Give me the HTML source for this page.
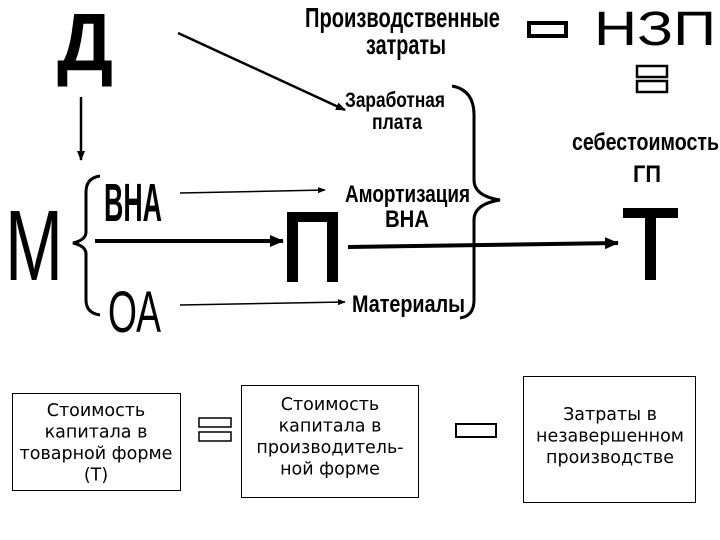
<!DOCTYPE html>
<html><head><meta charset="utf-8"><style>
html,body{margin:0;padding:0;background:#fff;width:720px;height:540px;overflow:hidden}
svg{display:block}
.b{font-family:"Liberation Sans","DejaVu Sans",sans-serif;font-weight:bold;fill:#000}
.r{font-family:"Liberation Sans",sans-serif;fill:#000}
.d{font-family:"DejaVu Sans",sans-serif;font-size:17.5px;fill:#000}
</style></head><body>
<svg width="720" height="540" viewBox="0 0 720 540" xmlns="http://www.w3.org/2000/svg">
<defs>
<marker id="a" markerWidth="10" markerHeight="8" refX="9" refY="4" orient="auto" markerUnits="userSpaceOnUse"><path d="M0,0L10,4L0,8z"/></marker>
<marker id="s" markerWidth="8" markerHeight="6" refX="7" refY="3" orient="auto" markerUnits="userSpaceOnUse"><path d="M0,0L8,3L0,6z"/></marker>
<marker id="t" markerWidth="14" markerHeight="12" refX="13" refY="6" orient="auto" markerUnits="userSpaceOnUse"><path d="M0,0L14,6L0,12z"/></marker>
</defs>
<text class="b" x="57" y="70" font-size="82" textLength="56" lengthAdjust="spacingAndGlyphs">Д</text>
<line x1="81" y1="97" x2="81" y2="160" stroke="#000" stroke-width="2.5" marker-end="url(#a)"/>
<line x1="178" y1="33" x2="345" y2="110" stroke="#000" stroke-width="2.5" marker-end="url(#a)"/>
<text class="b" x="305" y="27" font-size="28" textLength="195" lengthAdjust="spacingAndGlyphs">Производственные</text>
<text class="b" x="366" y="54" font-size="28" textLength="80" lengthAdjust="spacingAndGlyphs">затраты</text>
<rect x="529" y="23" width="37" height="13" fill="none" stroke="#000" stroke-width="4"/>
<text class="r" x="594" y="45" font-size="48" textLength="122" lengthAdjust="spacingAndGlyphs">НЗП</text>
<rect x="637" y="66" width="30" height="11" fill="none" stroke="#000" stroke-width="2.5"/>
<rect x="637" y="81" width="30" height="11" fill="none" stroke="#000" stroke-width="2.5"/>
<text class="b" x="345" y="107" font-size="21" textLength="100" lengthAdjust="spacingAndGlyphs">Заработная</text>
<text class="b" x="372" y="129" font-size="21" textLength="50" lengthAdjust="spacingAndGlyphs">плата</text>
<path d="M452,86 Q474,90 474,115 L474,180 Q474,196 500,200 Q474,204 474,220 L474,300 Q474,316 460,318" fill="none" stroke="#000" stroke-width="3"/>
<text class="b" x="572" y="150" font-size="24" textLength="147" lengthAdjust="spacingAndGlyphs">себестоимость</text>
<text class="b" x="633" y="182" font-size="24" textLength="28" lengthAdjust="spacingAndGlyphs">ГП</text>
<text class="r" x="5" y="280" font-size="100" textLength="58" lengthAdjust="spacingAndGlyphs">М</text>
<path d="M100,176 Q86,178 86,192 L86,232 Q86,240 73,243 Q86,246 86,254 L86,300 Q86,313 100,315" fill="none" stroke="#000" stroke-width="3"/>
<text class="b" x="104" y="221" font-size="54" textLength="58" lengthAdjust="spacingAndGlyphs">ВНА</text>
<text class="r" x="108" y="332" font-size="58" textLength="53" lengthAdjust="spacingAndGlyphs">ОА</text>
<line x1="180" y1="193" x2="325" y2="190" stroke="#000" stroke-width="1.5" marker-end="url(#s)"/>
<line x1="180" y1="305" x2="345" y2="302" stroke="#000" stroke-width="1.5" marker-end="url(#s)"/>
<text class="b" x="345" y="202" font-size="24" textLength="125" lengthAdjust="spacingAndGlyphs">Амортизация</text>
<text class="b" x="385" y="227" font-size="24" textLength="44" lengthAdjust="spacingAndGlyphs">ВНА</text>
<line x1="95" y1="241" x2="283" y2="241" stroke="#000" stroke-width="4" marker-end="url(#t)"/>
<path d="M287,282 L287,212 L338,212 L338,282 L327,282 L327,222 L298,222 L298,282Z"/>
<line x1="348" y1="247" x2="618" y2="243" stroke="#000" stroke-width="4" marker-end="url(#t)"/>
<path d="M623,208 L678,208 L678,218 L656,218 L656,280 L645,280 L645,218 L623,218Z"/>
<text class="b" x="352" y="312" font-size="24" textLength="113" lengthAdjust="spacingAndGlyphs">Материалы</text>
<rect x="12.5" y="393.5" width="168" height="97" fill="none" stroke="#000" stroke-width="1"/>
<text class="d" text-anchor="middle"><tspan x="96" y="416">Стоимость</tspan><tspan x="96" y="437.5">капитала в</tspan><tspan x="96" y="459">товарной форме</tspan><tspan x="96" y="480.5">(Т)</tspan></text>
<rect x="199" y="418" width="32" height="9" fill="none" stroke="#000" stroke-width="1.5"/>
<rect x="199" y="432" width="32" height="9" fill="none" stroke="#000" stroke-width="1.5"/>
<rect x="241.5" y="385.5" width="177" height="112" fill="none" stroke="#000" stroke-width="1"/>
<text class="d" text-anchor="middle"><tspan x="330" y="410">Стоимость</tspan><tspan x="330" y="431.5">капитала в</tspan><tspan x="330" y="453">производитель-</tspan><tspan x="330" y="474.5">ной форме</tspan></text>
<rect x="456" y="424" width="40" height="13" fill="none" stroke="#000" stroke-width="2"/>
<rect x="523.5" y="376.5" width="172" height="126" fill="none" stroke="#000" stroke-width="1"/>
<text class="d" text-anchor="middle"><tspan x="610" y="420">Затраты в</tspan><tspan x="610" y="441.5">незавершенном</tspan><tspan x="610" y="463">производстве</tspan></text>
</svg>
</body></html>
